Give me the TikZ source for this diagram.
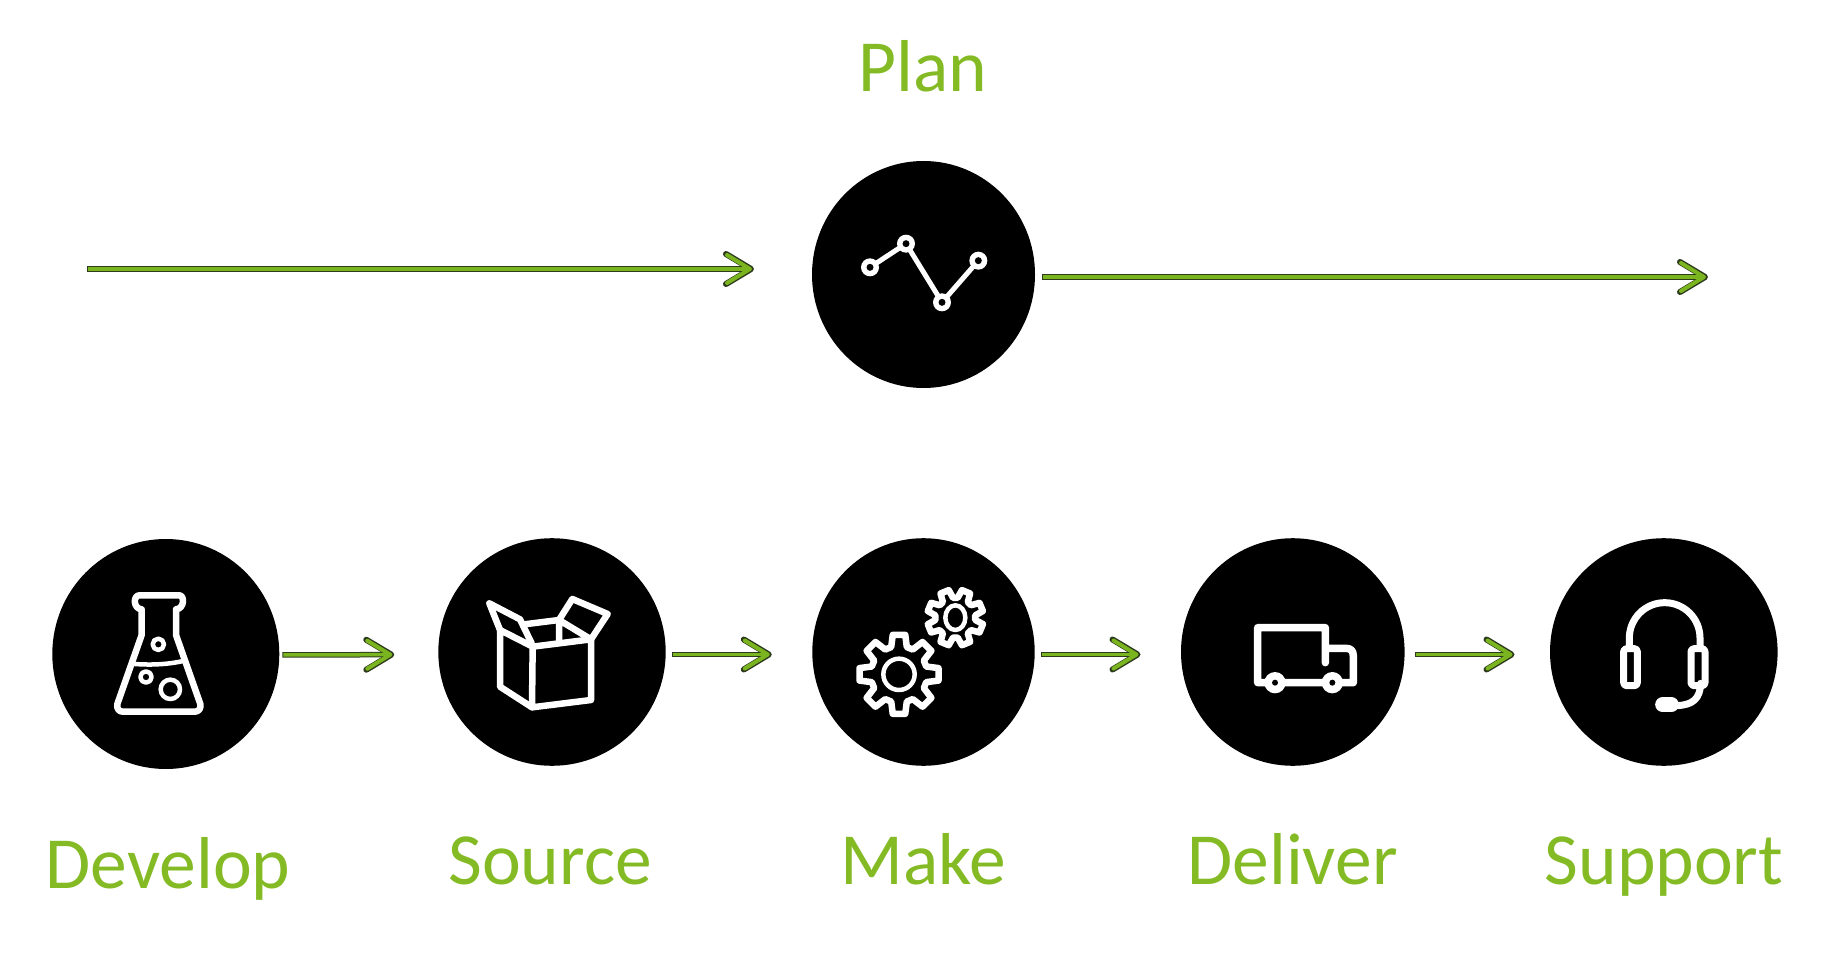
\documentclass[tikz,border=0pt]{standalone}
\usepackage{fontspec}
\setmainfont{Carlito}
\usetikzlibrary{shapes.geometric,arrows.meta}
\definecolor{brandgreen}{HTML}{84BB25}
\definecolor{arrowgreen}{HTML}{7AB51F}
\definecolor{arrowdark}{HTML}{2E3A1C}
\tikzset{
  disc/.style args={#1 and #2}{ellipse,fill=black,draw=none,inner sep=0pt,outer sep=0pt,minimum width=#1pt,minimum height=#2pt},
  lbl/.style={text=brandgreen,font=\fontsize{73.5}{73.5}\selectfont,anchor=base,inner sep=0pt},
  flow/.style 2 args={
    preaction={draw=arrowdark,line width=5.5pt,shorten <=#1pt,shorten >=#2pt,
      -{Straight Barb[length=25pt,width=30pt,line width=6pt,round]}},
    draw=arrowgreen,line width=3.5pt,shorten <=#1pt+1pt,shorten >=#2pt+2pt,
    -{Straight Barb[length=23pt,width=28pt,line width=4pt,round]}},
  icon/.style={draw=white,line width=6.5pt,line join=round,line cap=round},
  thin icon/.style={draw=white,line width=4.5pt,line join=round,line cap=round},
}
\begin{document}
\begin{tikzpicture}[x=1pt,y=-1pt]
\useasboundingbox[fill=white] (0,0) rectangle (1827,957);
% discs
\node[disc={223 and 227}] (plan) at (923.5,274.5) {};
\node[disc={227 and 230}] (develop) at (165.8,654) {};
\node[disc={227.4 and 227.6}] (source) at (552,652) {};
\node[disc={222.4 and 227.6}] (make) at (923.5,652) {};
\node[disc={223.6 and 227.6}] (deliver) at (1292.8,652) {};
\node[disc={227.6 and 227.6}] (support) at (1663.8,652) {};
% free ends
\coordinate (planin) at (87,269);
\coordinate (planout) at (1708,277);
% connectors
\draw[flow={0}{58}] (planin) -- ([yshift=5.5pt]plan.west);
\draw[flow={6.5}{0}] ([yshift=-2.5pt]plan.east) -- (planout);
\draw[flow={3}{44}] ([yshift=-1pt]develop.east) -- ([yshift=-2.5pt]source.west);
\draw[flow={6.5}{40.5}] ([yshift=-2.5pt]source.east) -- ([yshift=-2.5pt]make.west);
\draw[flow={6.5}{40.5}] ([yshift=-2.5pt]make.east) -- ([yshift=-2.5pt]deliver.west);
\draw[flow={10.5}{35.5}] ([yshift=-2.5pt]deliver.east) -- ([yshift=-2.5pt]support.west);
% labels
\node[lbl] (tplan) at (923,92) {Plan};
\node[lbl] (tdevelop) at (168,888) {Develop};
\node[lbl] (tsource) at (550,884) {Source};
\node[lbl] (tmake) at (923,884) {Make};
\node[lbl] (tdeliver) at (1292.5,884) {Deliver};
\node[lbl] (tsupport) at (1664,884) {Support};
% plan icon
\begin{scope}[shift={(780,130)},scale=1/3]
\draw[white,line width=5pt] (270,412) -- (378,341) -- (486,517) -- (595,392);
\foreach \p in {(270,412),(378,341),(486,517),(595,392)}{
  \fill[white] \p circle (27);
  \fill[black] \p circle (10.5);
}
\end{scope}
% flask
\begin{scope}[shift={(40,530)},scale=1/3]
\draw[icon] (298,196) -- (418,196) .. controls (434,196) and (434,236) .. (408,238) -- (408,315) -- (481,522) .. controls (484,535) and (476,545) .. (465,545) -- (248,545) .. controls (237,545) and (229,535) .. (232,522) -- (305,315) -- (305,238) .. controls (279,236) and (279,196) .. (298,196) -- cycle;
\draw[thin icon] (285,402) .. controls (340,406) and (390,402) .. (430,393);
\draw[thin icon] (355,343) circle (17) (318,441) circle (17) (391,478) circle (29);
\end{scope}
% box
\begin{scope}[shift={(430,530)},scale=1/3]
\draw[icon] (308,350) -- (483,328) -- (483,510) -- (306,532) -- cycle;
\draw[icon] (210,300) -- (308,350) (210,300) -- (210,470) -- (306,532);
\draw[icon] (210,300) -- (178,220) -- (270,268) -- (305,340);
\draw[icon] (283,283) -- (387,270) -- (387,335) (387,270) -- (483,328);
\draw[icon] (387,270) -- (427,207) -- (533,252) -- (483,328);
\end{scope}
% gears
\begin{scope}[shift={(800,530)},scale=1/3]
\begin{scope}[shift={(297,433)}]
\draw[thin icon] (0,0) circle (47);
\draw[icon] (-9:120)
  \foreach \a in {0,45,...,315} { -- (\a-9:120) -- (\a+9:120) -- (\a+16:85) -- (\a+29:85) } -- cycle;
\end{scope}
\begin{scope}[shift={(466,263)}]
\draw[thin icon] (0,0) ellipse (30 and 37);
\draw[icon] (13:85)
  \foreach \a in {22.5,67.5,...,337.5} { -- (\a-9:85) -- (\a+9:85) -- (\a+16:60) -- (\a+29:60) } -- cycle;
\end{scope}
\end{scope}
% truck
\begin{scope}[shift={(1170,530)},scale=1/3]
\draw[icon,line width=7.5pt] (466,398) -- (466,293) -- (263,293) -- (263,458) -- (550,458) -- (550,378) .. controls (550,362) and (542,355) .. (528,355) -- (466,355);
\foreach \p in {(315,458),(487,458)}{
  \fill[white] \p circle (32);
  \fill[black] \p circle (9);
}
\end{scope}
% headset
\begin{scope}[shift={(1540,530)},scale=1/3]
\draw[icon,line width=7pt,line cap=butt] (268,350) -- (268,324) arc[start angle=180,end angle=360,radius=106] -- (480,350);
\draw[icon,line width=7pt,rounded corners=3pt] (251,356) rectangle (292,467);
\draw[icon,line width=7pt,rounded corners=3pt] (453,356) rectangle (495,467);
\draw[icon,line width=7pt] (482,460) .. controls (480,505) and (460,525) .. (410,527);
\draw[icon,line width=15pt] (368,524) -- (394,524);
\end{scope}
\end{tikzpicture}
\end{document}
